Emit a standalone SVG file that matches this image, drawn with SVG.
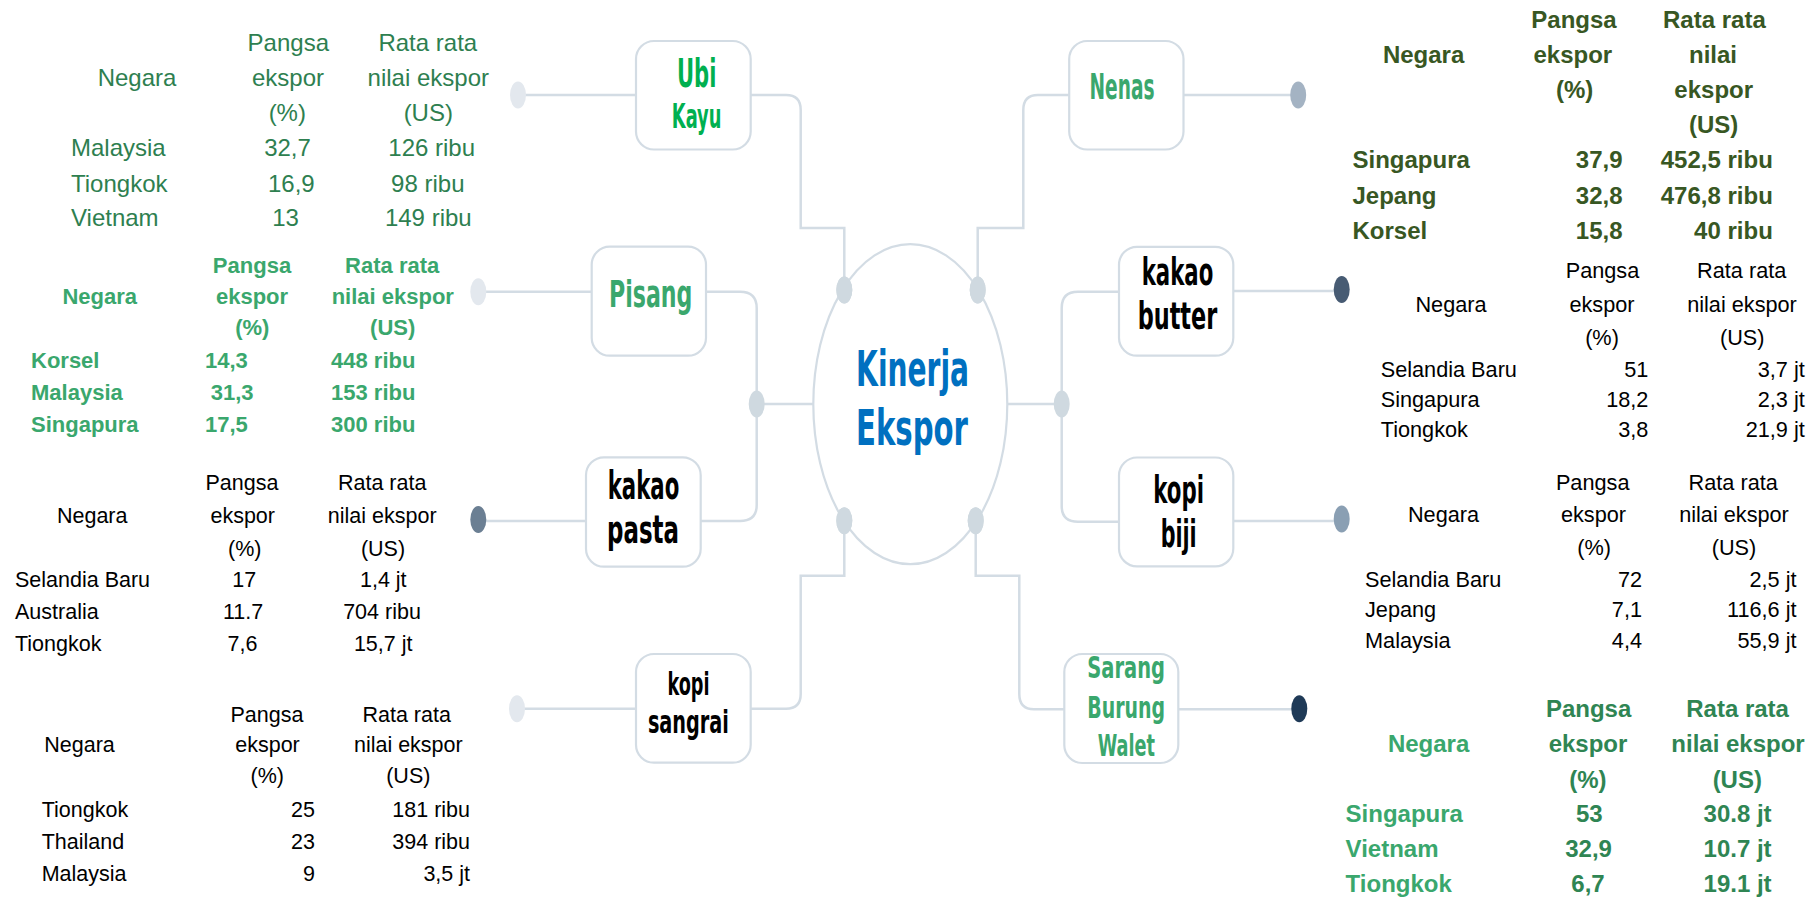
<svg xmlns="http://www.w3.org/2000/svg" width="1816" height="897" viewBox="0 0 1816 897">
<style>
.box{fill:#fff;stroke:#d3dce4;stroke-width:2.2}
.con{fill:none;stroke:#d3dce4;stroke-width:2.5}
.lbl{font-family:"Liberation Sans Narrow","DejaVu Sans Condensed","Liberation Sans",Arial,sans-serif;font-weight:bold;text-anchor:middle}
.t{font-family:"Liberation Sans",Arial,sans-serif}
.b{font-weight:bold}
.m{text-anchor:middle}
.e{text-anchor:end}
.jd{fill:#cfd9e0}
</style>
<rect width="1816" height="897" fill="#fff"/>
<g id="connectors">
<path class="con" d="M750.7 95 H786 Q800.7 95 800.7 110 V228 H844.3 V290"/>
<path class="con" d="M1069.2 95 H1038 Q1023.3 95 1023.3 110 V228 H977.7 V290"/>
<path class="con" d="M750.7 708.7 H786 Q800.7 708.7 800.7 694 V575.7 H844.3 V520.7"/>
<path class="con" d="M1064.3 709.3 H1034 Q1019.3 709.3 1019.3 694 V575.7 H975.7 V520.7"/>
<path class="con" d="M706 291.7 H740 Q756.7 291.7 756.7 308 V505 Q756.7 521 740 521 H700.7"/>
<path class="con" d="M756.7 404 H813.3"/>
<path class="con" d="M1119 291.8 H1078 Q1061.7 291.8 1061.7 308 V506 Q1061.7 521.8 1078 521.8 H1119"/>
<path class="con" d="M1007.3 404 H1061.7"/>
<path class="con" d="M636 95 H518"/>
<path class="con" d="M591.7 291.7 H478.3"/>
<path class="con" d="M586 521 H478.3"/>
<path class="con" d="M636 708.7 H517"/>
<path class="con" d="M1183.5 95 H1298.2"/>
<path class="con" d="M1233.3 291 H1341.7"/>
<path class="con" d="M1233.3 521 H1341.7"/>
<path class="con" d="M1178.3 709.3 H1299.3"/>
<ellipse cx="518" cy="95" rx="8" ry="13.5" fill="#e3e8ee"/>
<ellipse cx="478.3" cy="291.7" rx="8" ry="13.5" fill="#e3e8ee"/>
<ellipse cx="478.3" cy="519.5" rx="8" ry="13.5" fill="#6b7f93"/>
<ellipse cx="517" cy="708.7" rx="8" ry="13.5" fill="#e3e8ee"/>
<ellipse cx="1298.2" cy="95" rx="8" ry="13.5" fill="#a4b3c3"/>
<ellipse cx="1341.7" cy="289.5" rx="8" ry="13.5" fill="#475b73"/>
<ellipse cx="1341.7" cy="519" rx="8" ry="13.5" fill="#8a9fb3"/>
<ellipse cx="1299.3" cy="708.8" rx="8" ry="13.5" fill="#1f3a57"/>
<ellipse class="jd" cx="844.3" cy="290" rx="8" ry="13.5"/>
<ellipse class="jd" cx="977.7" cy="290" rx="8" ry="13.5"/>
<ellipse class="jd" cx="844.3" cy="520.7" rx="8" ry="13.5"/>
<ellipse class="jd" cx="975.7" cy="520.7" rx="8" ry="13.5"/>
<ellipse class="jd" cx="756.7" cy="404" rx="8" ry="13.5"/>
<ellipse class="jd" cx="1061.7" cy="404" rx="8" ry="13.5"/>
</g>
<g id="kinerja-ekspor">
<ellipse cx="910.3" cy="404.2" rx="97" ry="160" fill="none" stroke="#d3dce4" stroke-width="2.2"/>
<ellipse class="jd" cx="844.3" cy="290" rx="8" ry="13.5"/>
<ellipse class="jd" cx="977.7" cy="290" rx="8" ry="13.5"/>
<ellipse class="jd" cx="844.3" cy="520.7" rx="8" ry="13.5"/>
<ellipse class="jd" cx="975.7" cy="520.7" rx="8" ry="13.5"/>
<text class="lbl" x="912.6" y="386" font-size="49" fill="#0070c0" textLength="113" lengthAdjust="spacingAndGlyphs">Kinerja</text>
<text class="lbl" x="912" y="445" font-size="49" fill="#0070c0" textLength="112" lengthAdjust="spacingAndGlyphs">Ekspor</text>
</g>
<g id="ubi-kayu">
<rect class="box" x="636" y="41" width="114.7" height="108.5" rx="18"/>
<text class="lbl" x="696.7" y="87.3" font-size="39" fill="#00b050" textLength="39.4" lengthAdjust="spacingAndGlyphs">Ubi</text>
<text class="lbl" x="696.6" y="127.7" font-size="33" fill="#00b050" textLength="49.6" lengthAdjust="spacingAndGlyphs">Kayu</text>
</g>
<g id="pisang">
<rect class="box" x="591.7" y="246.7" width="114.3" height="109" rx="18"/>
<text class="lbl" x="650.7" y="307.3" font-size="38" fill="#3aa76d" textLength="83.4" lengthAdjust="spacingAndGlyphs">Pisang</text>
</g>
<g id="kakao-pasta">
<rect class="box" x="586" y="457.3" width="114.7" height="109.4" rx="18"/>
<text class="lbl" x="643.5" y="499.3" font-size="39" fill="#000" textLength="71.6" lengthAdjust="spacingAndGlyphs">kakao</text>
<text class="lbl" x="643" y="542.7" font-size="39" fill="#000" textLength="72" lengthAdjust="spacingAndGlyphs">pasta</text>
</g>
<g id="kopi-sangrai">
<rect class="box" x="636" y="654" width="114.7" height="108.7" rx="18"/>
<text class="lbl" x="688.5" y="695" font-size="32" fill="#000" textLength="42" lengthAdjust="spacingAndGlyphs">kopi</text>
<text class="lbl" x="688.4" y="733.3" font-size="32" fill="#000" textLength="81" lengthAdjust="spacingAndGlyphs">sangrai</text>
</g>
<g id="nenas">
<rect class="box" x="1069.2" y="41" width="114.3" height="108.5" rx="18"/>
<text class="lbl" x="1122" y="99" font-size="35" fill="#3aa76d" textLength="65" lengthAdjust="spacingAndGlyphs">Nenas</text>
</g>
<g id="kakao-butter">
<rect class="box" x="1119" y="246.8" width="114.3" height="108.9" rx="18"/>
<text class="lbl" x="1177.5" y="285.4" font-size="37" fill="#000" textLength="71.6" lengthAdjust="spacingAndGlyphs">kakao</text>
<text class="lbl" x="1177.5" y="329.3" font-size="37" fill="#000" textLength="79.6" lengthAdjust="spacingAndGlyphs">butter</text>
</g>
<g id="kopi-biji">
<rect class="box" x="1119" y="457.5" width="114.3" height="108.9" rx="18"/>
<text class="lbl" x="1178.6" y="503" font-size="37" fill="#000" textLength="50.7" lengthAdjust="spacingAndGlyphs">kopi</text>
<text class="lbl" x="1178.7" y="547" font-size="37" fill="#000" textLength="36" lengthAdjust="spacingAndGlyphs">biji</text>
</g>
<g id="sarang-burung-walet">
<rect class="box" x="1064.3" y="654" width="114" height="109" rx="18"/>
<text class="lbl" x="1126.2" y="678" font-size="30" fill="#3aa76d" textLength="77.7" lengthAdjust="spacingAndGlyphs">Sarang</text>
<text class="lbl" x="1126.2" y="717.5" font-size="30" fill="#3aa76d" textLength="77.7" lengthAdjust="spacingAndGlyphs">Burung</text>
<text class="lbl" x="1126.4" y="755.7" font-size="30" fill="#3aa76d" textLength="57.3" lengthAdjust="spacingAndGlyphs">Walet</text>
</g>
<g id="tabel-ubi-kayu" class="t" font-size="24" fill="#2e7f50">
<text class="m" x="137" y="86">Negara</text>
<text class="m" x="288.3" y="50.7">Pangsa</text>
<text class="m" x="288" y="86">ekspor</text>
<text class="m" x="287.3" y="121">(%)</text>
<text class="m" x="427.8" y="50.7">Rata rata</text>
<text class="m" x="428.3" y="86">nilai ekspor</text>
<text class="m" x="428.3" y="121">(US)</text>
<text x="71" y="156">Malaysia</text>
<text class="m" x="287.5" y="156">32,7</text>
<text class="m" x="431.7" y="156">126 ribu</text>
<text x="71" y="191.5">Tiongkok</text>
<text class="m" x="291.3" y="191.5">16,9</text>
<text class="m" x="427.8" y="191.5">98 ribu</text>
<text x="71" y="226">Vietnam</text>
<text class="m" x="285.5" y="226">13</text>
<text class="m" x="428.3" y="226">149 ribu</text>
</g>
<g id="tabel-pisang" class="t b" font-size="22" fill="#3aa76d">
<text class="m" x="99.7" y="304">Negara</text>
<text class="m" x="252" y="273.3">Pangsa</text>
<text class="m" x="252" y="304">ekspor</text>
<text class="m" x="252.3" y="335">(%)</text>
<text class="m" x="392.2" y="273.3">Rata rata</text>
<text class="m" x="392.8" y="304">nilai ekspor</text>
<text class="m" x="392.7" y="335">(US)</text>
<text x="31" y="367.7">Korsel</text>
<text x="205" y="367.7">14,3</text>
<text x="331" y="367.7">448 ribu</text>
<text x="31" y="400">Malaysia</text>
<text x="210.7" y="400">31,3</text>
<text x="331" y="400">153 ribu</text>
<text x="31" y="431.7">Singapura</text>
<text x="205" y="431.7">17,5</text>
<text x="331" y="431.7">300 ribu</text>
</g>
<g id="tabel-kakao-pasta" class="t" font-size="21.5" fill="#000">
<text class="m" x="92.2" y="522.7">Negara</text>
<text class="m" x="242" y="490">Pangsa</text>
<text class="m" x="242.7" y="522.7">ekspor</text>
<text class="m" x="244.7" y="556">(%)</text>
<text class="m" x="382.2" y="490">Rata rata</text>
<text class="m" x="382.2" y="522.7">nilai ekspor</text>
<text class="m" x="383" y="556">(US)</text>
<text x="15" y="586.7">Selandia Baru</text>
<text class="m" x="244.2" y="586.7">17</text>
<text class="m" x="383.3" y="586.7">1,4 jt</text>
<text x="15" y="618.5">Australia</text>
<text class="m" x="243" y="618.5">11.7</text>
<text class="m" x="382" y="618.5">704 ribu</text>
<text x="15" y="650.7">Tiongkok</text>
<text class="m" x="242.5" y="650.7">7,6</text>
<text class="m" x="383.2" y="650.7">15,7 jt</text>
</g>
<g id="tabel-kopi-sangrai" class="t" font-size="21.5" fill="#000">
<text class="m" x="79.5" y="751.7">Negara</text>
<text class="m" x="267" y="721.7">Pangsa</text>
<text class="m" x="267.5" y="751.7">ekspor</text>
<text class="m" x="267.2" y="783">(%)</text>
<text class="m" x="406.7" y="721.7">Rata rata</text>
<text class="m" x="408.3" y="751.7">nilai ekspor</text>
<text class="m" x="408.3" y="783">(US)</text>
<text x="41.7" y="816.7">Tiongkok</text>
<text class="e" x="315" y="816.7">25</text>
<text class="e" x="470" y="816.7">181 ribu</text>
<text x="41.7" y="848.5">Thailand</text>
<text class="e" x="315" y="848.5">23</text>
<text class="e" x="470" y="848.5">394 ribu</text>
<text x="41.7" y="880.5">Malaysia</text>
<text class="e" x="315" y="880.5">9</text>
<text class="e" x="470" y="880.5">3,5 jt</text>
</g>
<g id="tabel-nenas" class="t b" font-size="24" fill="#385723">
<text class="m" x="1423.6" y="63.3">Negara</text>
<text class="m" x="1574" y="28.3">Pangsa</text>
<text class="m" x="1572.8" y="63.3">ekspor</text>
<text class="m" x="1574.6" y="98.3">(%)</text>
<text class="m" x="1714.4" y="28.3">Rata rata</text>
<text class="m" x="1713" y="63.3">nilai</text>
<text class="m" x="1713.7" y="98.3">ekspor</text>
<text class="m" x="1713.7" y="133.3">(US)</text>
<text x="1352.5" y="168.3">Singapura</text>
<text class="e" x="1622.5" y="168.3">37,9</text>
<text class="e" x="1772.8" y="168.3">452,5 ribu</text>
<text x="1352.5" y="203.5">Jepang</text>
<text class="e" x="1622.5" y="203.5">32,8</text>
<text class="e" x="1772.8" y="203.5">476,8 ribu</text>
<text x="1352.5" y="239">Korsel</text>
<text class="e" x="1622.5" y="239">15,8</text>
<text class="e" x="1772.8" y="239">40 ribu</text>
</g>
<g id="tabel-kakao-butter" class="t" font-size="21.7" fill="#000">
<text class="m" x="1451" y="311.7">Negara</text>
<text class="m" x="1602.5" y="278.3">Pangsa</text>
<text class="m" x="1602" y="311.7">ekspor</text>
<text class="m" x="1602" y="345">(%)</text>
<text class="m" x="1741.7" y="278.3">Rata rata</text>
<text class="m" x="1742" y="311.7">nilai ekspor</text>
<text class="m" x="1742.2" y="345">(US)</text>
<text x="1380.7" y="376.7">Selandia Baru</text>
<text class="e" x="1648.4" y="376.7">51</text>
<text class="e" x="1804.8" y="376.7">3,7 jt</text>
<text x="1380.7" y="406.7">Singapura</text>
<text class="e" x="1648.4" y="406.7">18,2</text>
<text class="e" x="1804.8" y="406.7">2,3 jt</text>
<text x="1380.7" y="436.7">Tiongkok</text>
<text class="e" x="1648.4" y="436.7">3,8</text>
<text class="e" x="1804.8" y="436.7">21,9 jt</text>
</g>
<g id="tabel-kopi-biji" class="t" font-size="21.7" fill="#000">
<text class="m" x="1443.5" y="521.7">Negara</text>
<text class="m" x="1592.7" y="490">Pangsa</text>
<text class="m" x="1593.5" y="521.7">ekspor</text>
<text class="m" x="1594.2" y="555">(%)</text>
<text class="m" x="1733.2" y="490">Rata rata</text>
<text class="m" x="1734" y="521.7">nilai ekspor</text>
<text class="m" x="1734" y="555">(US)</text>
<text x="1365" y="586.7">Selandia Baru</text>
<text class="e" x="1642" y="586.7">72</text>
<text class="e" x="1796.5" y="586.7">2,5 jt</text>
<text x="1365" y="616.7">Jepang</text>
<text class="e" x="1642" y="616.7">7,1</text>
<text class="e" x="1796.5" y="616.7">116,6 jt</text>
<text x="1365" y="648.3">Malaysia</text>
<text class="e" x="1642" y="648.3">4,4</text>
<text class="e" x="1796.5" y="648.3">55,9 jt</text>
</g>
<g id="tabel-sarang-burung-walet" class="t b" font-size="24">
<g fill="#3aa76d">
<text class="m" x="1428.6" y="751.7">Negara</text>
<text x="1345.6" y="821.7">Singapura</text>
<text x="1345.6" y="856.7">Vietnam</text>
<text x="1345.6" y="891.7">Tiongkok</text>
</g>
<g fill="#2f8553" class="m">
<text x="1588.6" y="716.7">Pangsa</text>
<text x="1588" y="751.7">ekspor</text>
<text x="1587.9" y="788.3">(%)</text>
<text x="1737.6" y="716.7">Rata rata</text>
<text x="1738" y="751.7">nilai ekspor</text>
<text x="1737.3" y="788.3">(US)</text>
<text x="1589.3" y="821.7">53</text>
<text x="1737.6" y="821.7">30.8 jt</text>
<text x="1588.6" y="856.7">32,9</text>
<text x="1737.6" y="856.7">10.7 jt</text>
<text x="1588" y="891.7">6,7</text>
<text x="1737.6" y="891.7">19.1 jt</text>
</g>
</g>
</svg>
